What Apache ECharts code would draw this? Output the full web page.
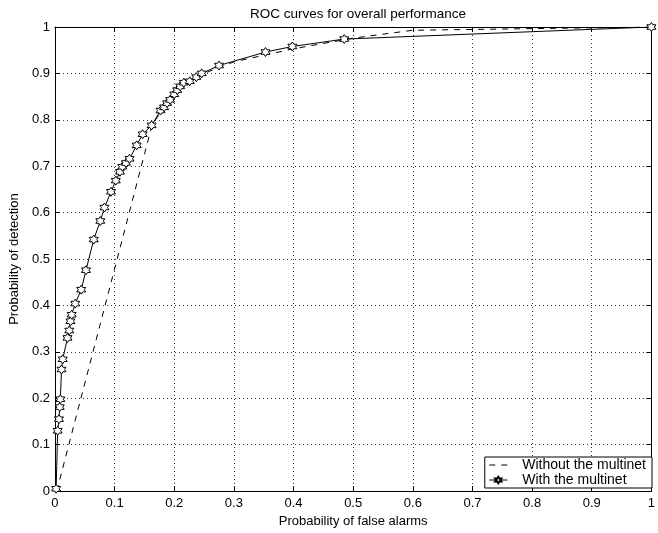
<!DOCTYPE html>
<html>
<head>
<meta charset="utf-8">
<script src="https://cdn.jsdelivr.net/npm/echarts@6/dist/echarts.min.js"></script>
<style>
  html, body { margin: 0; padding: 0; background: #fff; }
  #chart { width: 658px; height: 533px; }
</style>
</head>
<body>
<div id="chart"></div>
<script>
// ROC points: [false alarm prob, detection prob]
const withoutMultinet = [
  [0.003, 0.0], [0.163, 0.79], [0.2, 0.857], [0.25, 0.9], [0.3, 0.925],
  [0.4, 0.953], [0.5, 0.976], [0.6, 0.993], [1, 1]
];
const withMultinet = [
  [0.002, 0.005], [0.0045, 0.13], [0.0067, 0.155], [0.008, 0.181], [0.009, 0.198],
  [0.011, 0.262], [0.013, 0.284], [0.021, 0.33], [0.024, 0.346], [0.026, 0.366],
  [0.028, 0.38], [0.034, 0.404], [0.044, 0.434], [0.052, 0.476], [0.065, 0.542],
  [0.076, 0.582], [0.083, 0.611], [0.094, 0.645], [0.102, 0.669], [0.109, 0.688],
  [0.113, 0.699], [0.119, 0.707], [0.125, 0.716], [0.137, 0.745], [0.147, 0.769],
  [0.162, 0.788], [0.177, 0.82], [0.183, 0.827], [0.188, 0.836], [0.193, 0.843],
  [0.2, 0.855], [0.205, 0.864], [0.21, 0.872], [0.216, 0.88], [0.226, 0.883],
  [0.237, 0.892], [0.246, 0.9], [0.275, 0.917], [0.353, 0.946], [0.398, 0.958],
  [0.485, 0.974], [1, 1]
];
const seriesNames = ["Without the multinet", "With the multinet"];

const font = "Liberation Sans, Arial, sans-serif";
const hexagram = "path://M0,-10 L2.887,-5 L8.66,-5 L5.77,0 L8.66,5 L2.887,5 L0,10 L-2.887,5 L-8.66,5 L-5.77,0 L-8.66,-5 L-2.887,-5 Z";

const chart = echarts.init(document.getElementById("chart"), null, { renderer: "canvas" });

const gridLine = { show: true, lineStyle: { color: "#333", type: [1, 3], width: 1 } };
const axisLine = { show: true, onZero: false, lineStyle: { color: "#000", width: 1 } };
const tick = { show: true, inside: true, length: 5, lineStyle: { color: "#000" } };
const lbl = { color: "#000", fontSize: 13, fontFamily: font };

chart.setOption({
  animation: false,
  title: {
    text: "ROC curves for overall performance",
    left: 353, top: 2, textAlign: "center",
    textStyle: { fontSize: 13.5, fontWeight: "normal", color: "#000", fontFamily: font }
  },
  grid: { left: 53, right: 5, top: 27, bottom: 36 },
  legend: {
    data: seriesNames,
    orient: "vertical",
    right: 6, top: 457,
    backgroundColor: "#fff",
    borderColor: "#000", borderWidth: 1, borderRadius: 0,
    padding: [1, 6, 1, 4],
    itemGap: 1, itemWidth: 18, itemHeight: 8,
    lineStyle: { width: 1 },
    textStyle: { fontSize: 14, color: "#000", fontFamily: font, padding: [0, 0, 0, 10] }
  },
  xAxis: [
    {
      type: "value", min: 0, max: 1, interval: 0.1,
      name: "Probability of false alarms", nameLocation: "middle", nameGap: 23,
      nameTextStyle: lbl,
      axisLine, axisTick: tick, splitLine: gridLine,
      axisLabel: { ...lbl, margin: 6 }
    },
    {
      type: "value", min: 0, max: 1, interval: 0.1, position: "top",
      axisLine, axisTick: tick, splitLine: { show: false }, axisLabel: { show: false }
    }
  ],
  yAxis: [
    {
      type: "value", min: 0, max: 1, interval: 0.1,
      name: "Probability of detection", nameLocation: "middle", nameGap: 26,
      nameTextStyle: lbl,
      axisLine, axisTick: tick, splitLine: gridLine,
      axisLabel: { ...lbl, margin: 5 }
    },
    {
      type: "value", min: 0, max: 1, interval: 0.1, position: "right",
      axisLine, axisTick: tick, splitLine: { show: false }, axisLabel: { show: false }
    }
  ],
  series: [
    {
      name: seriesNames[0], type: "line", data: withoutMultinet,
      symbol: "circle", showSymbol: false,
      lineStyle: { color: "#000", width: 1, type: [6, 6] },
      itemStyle: { color: "rgba(0,0,0,0)", borderWidth: 0 }
    },
    {
      name: seriesNames[1], type: "line", data: withMultinet,
      symbol: hexagram, symbolSize: 9,
      lineStyle: { color: "#000", width: 1 },
      itemStyle: { color: "#fff", borderColor: "#000", borderWidth: 1 }
    }
  ]
});
</script>
</body>
</html>
